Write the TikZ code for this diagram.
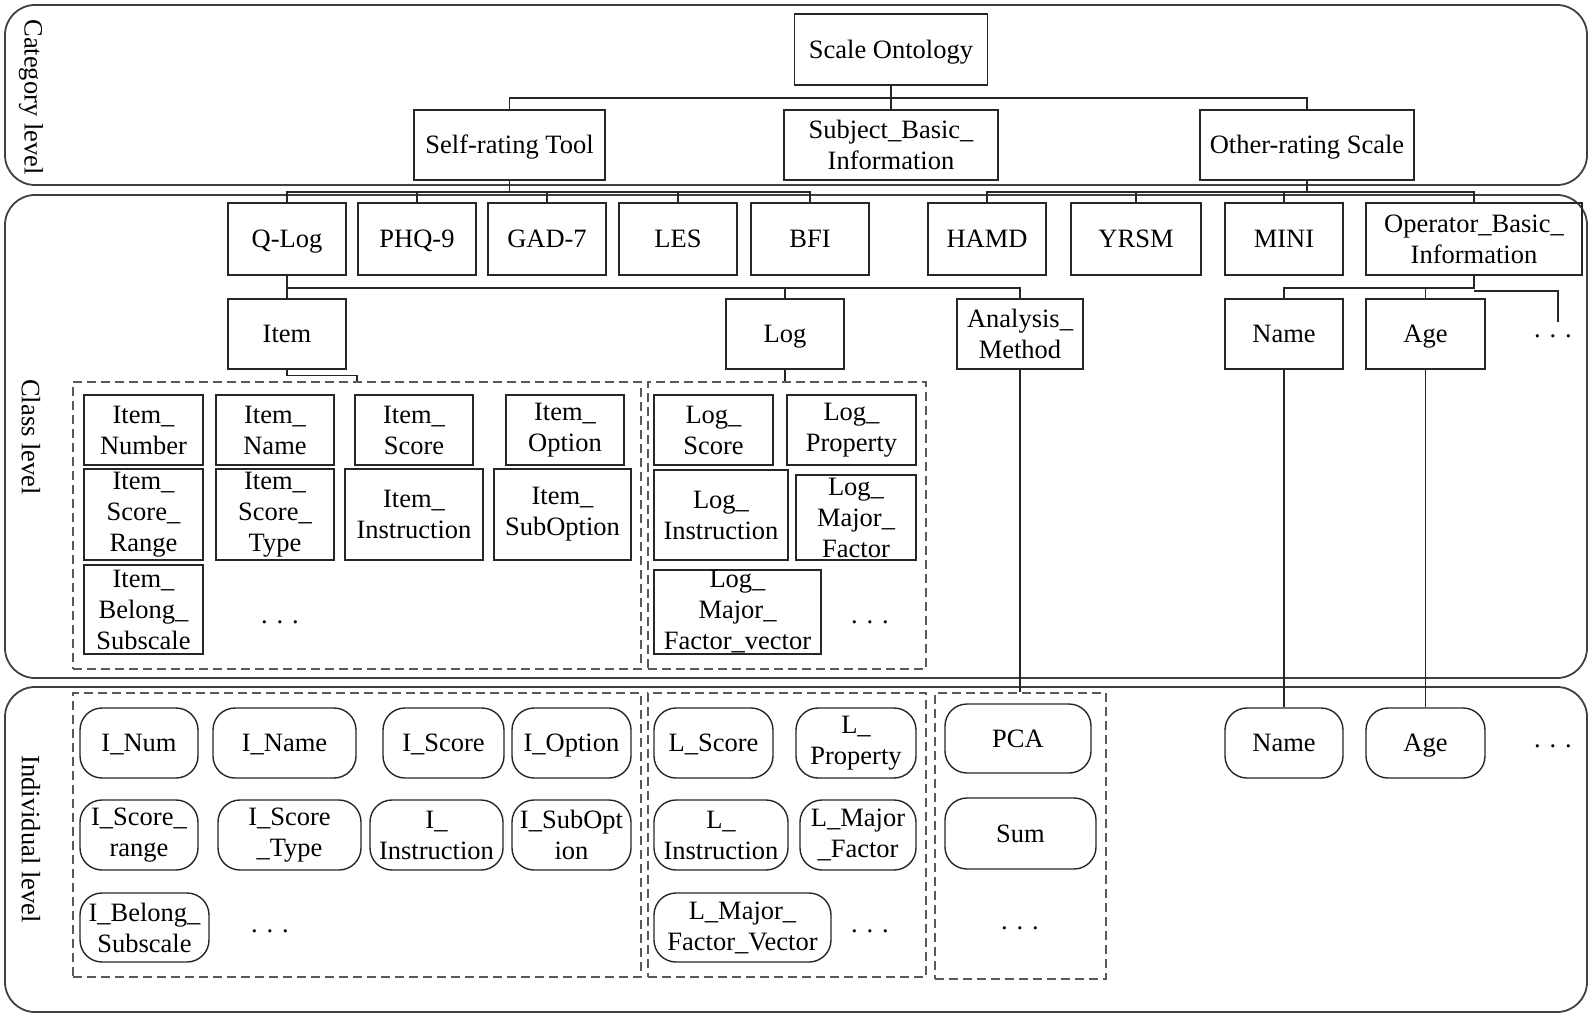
\documentclass[tikz,border=0pt]{standalone}
\usepackage{fontspec}
\setmainfont{Liberation Serif}

\begin{document}
\begin{tikzpicture}[x=1pt,y=-1pt,
  font=\fontsize{26.5}{31}\selectfont,
  band/.style={draw=black!75, line width=1.8pt, rounded corners=30pt},
  group/.style={draw=black!65, line width=1.4pt, dash pattern=on 9pt off 5pt, inner sep=0pt},
  cls/.style={draw=black!85, line width=1.4pt, inner sep=0pt, align=center},
  ind/.style={cls, rounded corners=22pt},
  oneline/.style={text height=17.5pt, text depth=0pt},
  link/.style={draw=black!85, line width=1.3pt},
  dots/.style={inner sep=0pt}]

  \useasboundingbox (0,0) rectangle (1595,1016);

  % level bands
  \draw[band] (5,5) rectangle (1587,185);
  \draw[band] (5,195) rectangle (1587,678);
  \draw[band] (5,687) rectangle (1587,1012);

  \node[rotate=-90] (catlbl) at (31,97) {Category level};
  \node[rotate=-90] (clslbl) at (31,437) {Class level};
  \node[rotate=-90] (indlbl) at (31,839) {Individual level};

  % category level
  \node[cls, oneline, minimum width=193pt, minimum height=71pt] (ontology) at (891,49.5) {Scale Ontology};
  \node[cls, oneline, minimum width=191pt, minimum height=70pt] (selftool) at (509.5,145) {Self-rating Tool};
  \node[cls, minimum width=214pt, minimum height=70pt] (subjinfo) at (891,145) {Subject\_Basic\_\\Information};
  \node[cls, oneline, minimum width=214pt, minimum height=70pt] (otherscale) at (1307,145) {Other-rating Scale};

  % class level, scales
  \node[cls, oneline, minimum width=118pt, minimum height=72pt] (qlog) at (287,239) {Q-Log};
  \node[cls, oneline, minimum width=118pt, minimum height=72pt] (phq) at (417,239) {PHQ-9};
  \node[cls, oneline, minimum width=118pt, minimum height=72pt] (gad) at (547,239) {GAD-7};
  \node[cls, oneline, minimum width=118pt, minimum height=72pt] (les) at (678,239) {LES};
  \node[cls, oneline, minimum width=118pt, minimum height=72pt] (bfi) at (810,239) {BFI};
  \node[cls, oneline, minimum width=118pt, minimum height=72pt] (hamd) at (987,239) {HAMD};
  \node[cls, oneline, minimum width=130pt, minimum height=72pt] (yrsm) at (1136,239) {YRSM};
  \node[cls, oneline, minimum width=118pt, minimum height=72pt] (mini) at (1284,239) {MINI};
  \node[cls, minimum width=216pt, minimum height=72pt] (operator) at (1474,239) {Operator\_Basic\_\\Information};

  % class level, parts
  \node[cls, oneline, minimum width=118pt, minimum height=70pt] (item) at (287,334) {Item};
  \node[cls, oneline, minimum width=118pt, minimum height=70pt] (log) at (785,334) {Log};
  \node[cls, minimum width=126pt, minimum height=70pt] (analysis) at (1020,334) {Analysis\_\\Method};
  \node[cls, oneline, minimum width=118pt, minimum height=70pt] (name) at (1284,334) {Name};
  \node[cls, oneline, minimum width=119pt, minimum height=70pt] (age) at (1425.5,334) {Age};
  \node[dots] (namedots) at (1553,336) {. . .};

  % class level, item group
  \node[group, minimum width=568pt, minimum height=287pt] (itemcls) at (357,525.5) {};
  \node[cls, minimum width=119pt, minimum height=70pt] (inum) at (143.5,430) {Item\_\\Number};
  \node[cls, minimum width=118pt, minimum height=70pt] (iname) at (275,430) {Item\_\\Name};
  \node[cls, minimum width=118pt, minimum height=70pt] (iscore) at (414,430) {Item\_\\Score};
  \node[cls, minimum width=118pt, minimum height=70pt] (ioption) at (565,430) {Item\_\\Option};
  \node[cls, minimum width=119pt, minimum height=91pt] (irange) at (143.5,514.5) {Item\_\\Score\_\\Range};
  \node[cls, minimum width=118pt, minimum height=91pt] (itype) at (275,514.5) {Item\_\\Score\_\\Type};
  \node[cls, minimum width=138pt, minimum height=91pt] (iinstr) at (414,514.5) {Item\_\\Instruction};
  \node[cls, minimum width=137pt, minimum height=91pt] (isubopt) at (562.5,514.5) {Item\_\\SubOption};
  \node[cls, minimum width=119pt, minimum height=89pt] (ibelong) at (143.5,609.5) {Item\_\\Belong\_\\Subscale};
  \node[dots] (itemdots) at (280,622) {. . .};

  % class level, log group
  \node[group, minimum width=278pt, minimum height=287pt] (logcls) at (787,525.5) {};
  \node[cls, minimum width=119pt, minimum height=70pt] (lscore) at (713.5,430) {Log\_\\Score};
  \node[cls, minimum width=129pt, minimum height=70pt] (lprop) at (851.5,430) {Log\_\\Property};
  \node[cls, minimum width=134pt, minimum height=90pt] (linstr) at (721,515) {Log\_\\Instruction};
  \node[cls, minimum width=120pt, minimum height=85pt] (lmajor) at (856,517.5) {Log\_\\Major\_\\Factor};
  \node[cls, minimum width=167pt, minimum height=84pt] (lvector) at (737.5,612) {Log\_\\Major\_\\Factor\_vector};
  \node[dots] (logdots) at (870,622) {. . .};

  % individual level, item group
  \node[group, minimum width=568pt, minimum height=284pt] (itemind) at (357,835) {};
  \node[ind, oneline, minimum width=118pt, minimum height=70pt] (inumi) at (139,743) {I\_Num};
  \node[ind, oneline, minimum width=143pt, minimum height=70pt] (inamei) at (284.5,743) {I\_Name};
  \node[ind, oneline, minimum width=121pt, minimum height=70pt] (iscorei) at (443.5,743) {I\_Score};
  \node[ind, oneline, minimum width=119pt, minimum height=70pt] (ioptioni) at (571.5,743) {I\_Option};
  \node[ind, minimum width=118pt, minimum height=70pt] (irangei) at (139,835) {I\_Score\_\\range};
  \node[ind, minimum width=143pt, minimum height=70pt] (itypei) at (289.5,835) {I\_Score\\\_Type};
  \node[ind, minimum width=133pt, minimum height=70pt] (iinstri) at (436.5,835) {I\_\\Instruction};
  \node[ind, minimum width=119pt, minimum height=70pt] (isubopti) at (571.5,835) {I\_SubOpt\\ion};
  \node[ind, minimum width=129pt, minimum height=69pt] (ibelongi) at (144.5,927.5) {I\_Belong\_\\Subscale};
  \node[dots] (itemidots) at (270,931) {. . .};

  % individual level, log group
  \node[group, minimum width=278pt, minimum height=284pt] (logind) at (787,835) {};
  \node[ind, oneline, minimum width=119pt, minimum height=70pt] (lscorei) at (713.5,743) {L\_Score};
  \node[ind, minimum width=120pt, minimum height=70pt] (lpropi) at (856,743) {L\_\\Property};
  \node[ind, minimum width=134pt, minimum height=70pt] (linstri) at (721,835) {L\_\\Instruction};
  \node[ind, minimum width=116pt, minimum height=70pt] (lmajori) at (858,835) {L\_Major\\\_Factor};
  \node[ind, minimum width=177pt, minimum height=69pt] (lvectori) at (742.5,927.5) {L\_Major\_\\Factor\_Vector};
  \node[dots] (logidots) at (870,931) {. . .};

  % individual level, methods
  \node[group, minimum width=171pt, minimum height=286pt] (methind) at (1020.5,836) {};
  \node[ind, oneline, minimum width=146pt, minimum height=69pt] (pca) at (1018,738.5) {PCA};
  \node[ind, oneline, minimum width=151pt, minimum height=71pt] (sum) at (1020.5,833.5) {Sum};
  \node[dots] (methdots) at (1020,928) {. . .};

  % individual level, operator
  \node[ind, oneline, minimum width=118pt, minimum height=70pt] (namei) at (1284,743) {Name};
  \node[ind, oneline, minimum width=119pt, minimum height=70pt] (agei) at (1425.5,743) {Age};
  \node[dots] (opidots) at (1553,746) {. . .};

  % links
  \coordinate (topbus) at (891,98);
  \draw[link] (ontology.south) -- (subjinfo.north);
  \draw[link] (selftool.north) |- (topbus) -| (otherscale.north);

  \coordinate (selfbus) at (509.5,192);
  \draw[link] (selftool.south) -- (selfbus);
  \draw[link] (qlog.north) |- (selfbus) -| (bfi.north);
  \draw[link] (phq.north) -- (phq.north |- selfbus);
  \draw[link] (gad.north) -- (gad.north |- selfbus);
  \draw[link] (les.north) -- (les.north |- selfbus);

  \coordinate (otherbus) at (1307,192);
  \draw[link] (otherscale.south) -- (otherbus);
  \draw[link] (hamd.north) |- (otherbus) -| (operator.north);
  \draw[link] (yrsm.north) -- (yrsm.north |- otherbus);
  \draw[link] (mini.north) -- (mini.north |- otherbus);

  \coordinate (qbus) at (287,288);
  \draw[link] (qlog.south) -- (item.north);
  \draw[link] (qbus) -| (analysis.north);
  \draw[link] (log.north) -- (log.north |- qbus);

  \coordinate (opbus) at (1474,288);
  \coordinate (opdots) at (1558,322);
  \draw[link] (operator.south) -- (opbus) -| (name.north);
  \draw[link] (opbus) -| (age.north);
  \draw[link] ([yshift=-3pt]opbus) -| (opdots);

  \draw[link] (item.south) -- ++(0,6) -| (itemcls.north);
  \draw[link] (log.south) -- (log.south |- logcls.north);
  \draw[link] (analysis.south) -- (analysis.south |- methind.north);
  \draw[link] (name.south) -- (namei.north);
  \draw[link] (age.south) -- (agei.north);
\end{tikzpicture}
\end{document}
